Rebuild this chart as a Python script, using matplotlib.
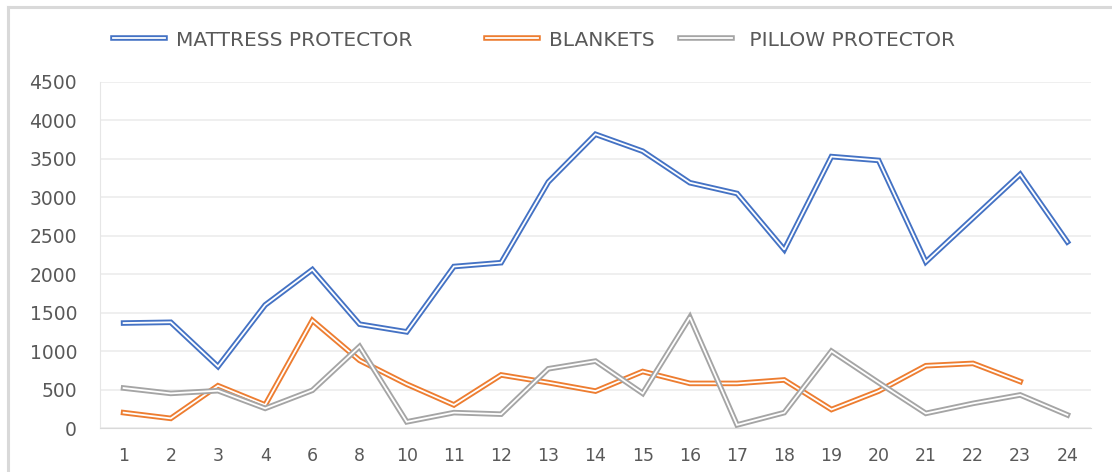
import numpy as np
import matplotlib.pyplot as plt
import matplotlib.patheffects as pe
from matplotlib.lines import Line2D

# category labels on x axis (5, 7 and 9 are missing in the source)
weeks = ['1', '2', '3', '4', '6', '8', '10', '11', '12', '13', '14',
         '15', '16', '17', '18', '19', '20', '21', '22', '23', '24']

mattress = [1365, 1375, 800, 1600, 2060, 1350, 1250, 2100, 2150, 3200, 3820,
            3600, 3190, 3050, 2320, 3530, 3480, 2160, 2730, 3300, 2420]
blankets = [200, 125, 550, 300, 1400, 880, 570, 300, 690, 590, 480,
            735, 580, 580, 625, 240, 480, 810, 840, 605, np.nan]
pillow = [520, 450, 485, 255, 490, 1060, 80, 200, 180, 770, 870,
          450, 1440, 40, 200, 1000, 590, 190, 320, 430, 170]

series = [('MATTRESS PROTECTOR', mattress, '#4472C4'),
          ('BLANKETS', blankets, '#ED7D31'),
          (' PILLOW PROTECTOR', pillow, '#A5A5A5')]

plt.rcParams['font.family'] = ['DejaVu Sans']

fig = plt.figure(figsize=(11.12, 4.72), dpi=100)
ax = fig.add_axes([100 / 1112, 44 / 472, 991 / 1112, 346 / 472])

# outer chart border: only top and left edges are visible
bx, by = 8 / 1112, 1 - 7 / 472
fig.add_artist(Line2D([bx, 1], [by, by], transform=fig.transFigure,
                      color='#d9d9d9', lw=2.2))
fig.add_artist(Line2D([bx, bx], [0, by], transform=fig.transFigure,
                      color='#d9d9d9', lw=2.2))

x = np.arange(len(weeks))
lines = []
for label, vals, color in series:
    ln, = ax.plot(x, vals, color='white', lw=1.3, label=label,
                  solid_joinstyle='miter',
                  path_effects=[pe.Stroke(linewidth=4.0, foreground=color,
                                          joinstyle='miter'),
                                pe.Normal()])
    lines.append(ln)

ax.set_xlim(-0.5, len(weeks) - 0.5)
ax.set_ylim(0, 4500)
ax.set_yticks(np.arange(0, 4501, 500))
ax.set_xticks(x)
ax.set_xticklabels(weeks)
ax.tick_params(axis='x', length=0, pad=14, labelsize=12.5, colors='#595959')
ax.tick_params(axis='y', length=0, pad=16.5, labelsize=13.5, colors='#595959')
ax.grid(axis='y', color='#ececec', lw=1.2)
ax.set_axisbelow(True)
for side in ['top', 'right']:
    ax.spines[side].set_visible(False)
ax.spines['left'].set_color('#e6e6e6')
ax.spines['bottom'].set_color('#d9d9d9')

# legend entries placed one by one, like the Excel layout
starts = [113, 486, 680]
for ln, xs in zip(lines, starts):
    leg = fig.legend(handles=[ln], loc='center left',
                     bbox_to_anchor=(xs / 1112, 1 - 40 / 472),
                     frameon=False, borderpad=0, borderaxespad=0,
                     handlelength=2.6, handletextpad=0.55,
                     prop={'size': 14.5})
    for t in leg.get_texts():
        t.set_color('#595959')

fig.savefig('out.png', dpi=100)
